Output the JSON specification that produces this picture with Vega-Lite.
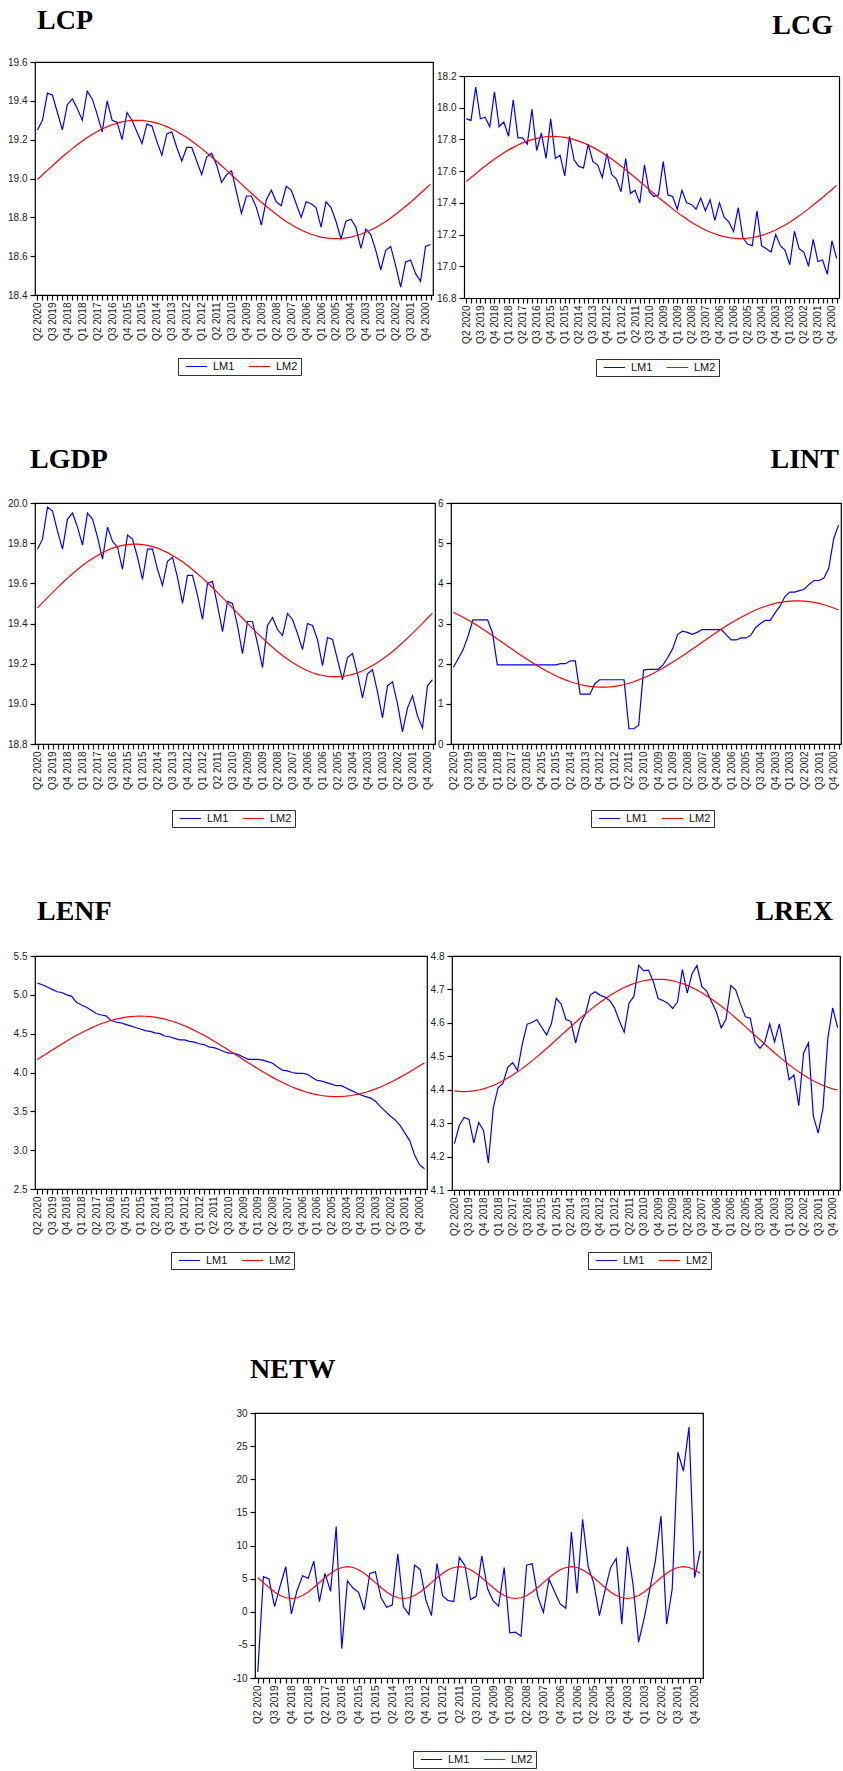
{
"$schema": "https://vega.github.io/schema/vega-lite/v6.json",
"background": "white",
"padding": {"left": 6, "top": 6, "right": 0, "bottom": 0},
"data": {"values": [
{"q":"Q2 2020","s":"LM1","lcp":19.25,"lcg":17.93,"lgdp":19.77,"lint":1.91,"lenf":5.15,"lrex":4.239,"netw":-9.1},
{"q":"Q1 2020","s":"LM1","lcp":19.30,"lcg":17.92,"lgdp":19.82,"lint":2.13,"lenf":5.13,"lrex":4.293,"netw":5.29},
{"q":"Q4 2019","s":"LM1","lcp":19.44,"lcg":18.13,"lgdp":19.98,"lint":2.35,"lenf":5.10,"lrex":4.317,"netw":4.94},
{"q":"Q3 2019","s":"LM1","lcp":19.43,"lcg":17.93,"lgdp":19.96,"lint":2.69,"lenf":5.07,"lrex":4.311,"netw":0.77},
{"q":"Q2 2019","s":"LM1","lcp":19.34,"lcg":17.94,"lgdp":19.86,"lint":3.09,"lenf":5.04,"lrex":4.241,"netw":3.93},
{"q":"Q1 2019","s":"LM1","lcp":19.25,"lcg":17.88,"lgdp":19.77,"lint":3.09,"lenf":5.03,"lrex":4.302,"netw":6.79},
{"q":"Q4 2018","s":"LM1","lcp":19.38,"lcg":18.10,"lgdp":19.92,"lint":3.09,"lenf":5.00,"lrex":4.278,"netw":-0.33},
{"q":"Q3 2018","s":"LM1","lcp":19.41,"lcg":17.88,"lgdp":19.95,"lint":3.09,"lenf":4.98,"lrex":4.181,"netw":3.18},
{"q":"Q2 2018","s":"LM1","lcp":19.36,"lcg":17.91,"lgdp":19.88,"lint":2.77,"lenf":4.90,"lrex":4.345,"netw":5.44},
{"q":"Q1 2018","s":"LM1","lcp":19.30,"lcg":17.82,"lgdp":19.79,"lint":1.97,"lenf":4.87,"lrex":4.406,"netw":5.04},
{"q":"Q4 2017","s":"LM1","lcp":19.45,"lcg":18.05,"lgdp":19.95,"lint":1.97,"lenf":4.84,"lrex":4.419,"netw":7.64},
{"q":"Q3 2017","s":"LM1","lcp":19.41,"lcg":17.81,"lgdp":19.92,"lint":1.97,"lenf":4.80,"lrex":4.467,"netw":1.53},
{"q":"Q2 2017","s":"LM1","lcp":19.33,"lcg":17.81,"lgdp":19.83,"lint":1.97,"lenf":4.76,"lrex":4.481,"netw":5.79},
{"q":"Q1 2017","s":"LM1","lcp":19.24,"lcg":17.77,"lgdp":19.72,"lint":1.97,"lenf":4.74,"lrex":4.457,"netw":3.08},
{"q":"Q4 2016","s":"LM1","lcp":19.40,"lcg":17.99,"lgdp":19.88,"lint":1.97,"lenf":4.73,"lrex":4.537,"netw":12.86},
{"q":"Q3 2016","s":"LM1","lcp":19.30,"lcg":17.73,"lgdp":19.81,"lint":1.97,"lenf":4.67,"lrex":4.596,"netw":-5.59},
{"q":"Q2 2016","s":"LM1","lcp":19.29,"lcg":17.84,"lgdp":19.78,"lint":1.97,"lenf":4.65,"lrex":4.601,"netw":4.68},
{"q":"Q1 2016","s":"LM1","lcp":19.20,"lcg":17.68,"lgdp":19.67,"lint":1.97,"lenf":4.64,"lrex":4.610,"netw":3.58},
{"q":"Q4 2015","s":"LM1","lcp":19.34,"lcg":17.93,"lgdp":19.84,"lint":1.97,"lenf":4.62,"lrex":4.586,"netw":2.93},
{"q":"Q3 2015","s":"LM1","lcp":19.30,"lcg":17.68,"lgdp":19.82,"lint":1.97,"lenf":4.60,"lrex":4.564,"netw":0.27},
{"q":"Q2 2015","s":"LM1","lcp":19.24,"lcg":17.70,"lgdp":19.73,"lint":1.97,"lenf":4.58,"lrex":4.598,"netw":5.79},
{"q":"Q1 2015","s":"LM1","lcp":19.18,"lcg":17.57,"lgdp":19.62,"lint":1.97,"lenf":4.56,"lrex":4.673,"netw":6.04},
{"q":"Q4 2014","s":"LM1","lcp":19.28,"lcg":17.82,"lgdp":19.77,"lint":2.00,"lenf":4.54,"lrex":4.656,"netw":2.13},
{"q":"Q3 2014","s":"LM1","lcp":19.27,"lcg":17.67,"lgdp":19.77,"lint":2.00,"lenf":4.53,"lrex":4.610,"netw":0.67},
{"q":"Q2 2014","s":"LM1","lcp":19.19,"lcg":17.63,"lgdp":19.67,"lint":2.07,"lenf":4.51,"lrex":4.604,"netw":1.02},
{"q":"Q1 2014","s":"LM1","lcp":19.12,"lcg":17.62,"lgdp":19.59,"lint":2.07,"lenf":4.50,"lrex":4.540,"netw":8.70},
{"q":"Q4 2013","s":"LM1","lcp":19.23,"lcg":17.77,"lgdp":19.71,"lint":1.24,"lenf":4.47,"lrex":4.598,"netw":0.77},
{"q":"Q3 2013","s":"LM1","lcp":19.24,"lcg":17.66,"lgdp":19.73,"lint":1.24,"lenf":4.46,"lrex":4.626,"netw":-0.43},
{"q":"Q2 2013","s":"LM1","lcp":19.16,"lcg":17.64,"lgdp":19.63,"lint":1.24,"lenf":4.44,"lrex":4.683,"netw":7.04},
{"q":"Q1 2013","s":"LM1","lcp":19.09,"lcg":17.56,"lgdp":19.50,"lint":1.50,"lenf":4.42,"lrex":4.693,"netw":6.39},
{"q":"Q4 2012","s":"LM1","lcp":19.16,"lcg":17.71,"lgdp":19.64,"lint":1.60,"lenf":4.42,"lrex":4.683,"netw":1.83},
{"q":"Q3 2012","s":"LM1","lcp":19.16,"lcg":17.58,"lgdp":19.64,"lint":1.60,"lenf":4.40,"lrex":4.677,"netw":-0.58},
{"q":"Q2 2012","s":"LM1","lcp":19.09,"lcg":17.55,"lgdp":19.54,"lint":1.60,"lenf":4.39,"lrex":4.667,"netw":7.29},
{"q":"Q1 2012","s":"LM1","lcp":19.02,"lcg":17.47,"lgdp":19.42,"lint":1.60,"lenf":4.37,"lrex":4.645,"netw":2.43},
{"q":"Q4 2011","s":"LM1","lcp":19.11,"lcg":17.68,"lgdp":19.60,"lint":1.60,"lenf":4.36,"lrex":4.606,"netw":1.68},
{"q":"Q3 2011","s":"LM1","lcp":19.13,"lcg":17.46,"lgdp":19.61,"lint":1.60,"lenf":4.33,"lrex":4.572,"netw":1.58},
{"q":"Q2 2011","s":"LM1","lcp":19.07,"lcg":17.48,"lgdp":19.49,"lint":0.38,"lenf":4.32,"lrex":4.659,"netw":8.19},
{"q":"Q1 2011","s":"LM1","lcp":18.98,"lcg":17.40,"lgdp":19.36,"lint":0.38,"lenf":4.30,"lrex":4.679,"netw":6.94},
{"q":"Q4 2010","s":"LM1","lcp":19.02,"lcg":17.64,"lgdp":19.51,"lint":0.47,"lenf":4.27,"lrex":4.772,"netw":1.83},
{"q":"Q3 2010","s":"LM1","lcp":19.04,"lcg":17.47,"lgdp":19.50,"lint":1.84,"lenf":4.25,"lrex":4.756,"netw":2.33},
{"q":"Q2 2010","s":"LM1","lcp":18.93,"lcg":17.44,"lgdp":19.39,"lint":1.86,"lenf":4.25,"lrex":4.758,"netw":8.44},
{"q":"Q1 2010","s":"LM1","lcp":18.82,"lcg":17.45,"lgdp":19.25,"lint":1.86,"lenf":4.23,"lrex":4.724,"netw":3.53},
{"q":"Q4 2009","s":"LM1","lcp":18.91,"lcg":17.66,"lgdp":19.41,"lint":1.86,"lenf":4.20,"lrex":4.673,"netw":1.68},
{"q":"Q3 2009","s":"LM1","lcp":18.91,"lcg":17.45,"lgdp":19.41,"lint":1.97,"lenf":4.17,"lrex":4.667,"netw":0.82},
{"q":"Q2 2009","s":"LM1","lcp":18.85,"lcg":17.44,"lgdp":19.30,"lint":2.16,"lenf":4.17,"lrex":4.659,"netw":6.69},
{"q":"Q1 2009","s":"LM1","lcp":18.76,"lcg":17.36,"lgdp":19.18,"lint":2.38,"lenf":4.17,"lrex":4.643,"netw":-3.19},
{"q":"Q4 2008","s":"LM1","lcp":18.89,"lcg":17.48,"lgdp":19.39,"lint":2.73,"lenf":4.16,"lrex":4.663,"netw":-3.09},
{"q":"Q3 2008","s":"LM1","lcp":18.94,"lcg":17.40,"lgdp":19.43,"lint":2.81,"lenf":4.14,"lrex":4.760,"netw":-3.69},
{"q":"Q2 2008","s":"LM1","lcp":18.88,"lcg":17.39,"lgdp":19.37,"lint":2.78,"lenf":4.12,"lrex":4.689,"netw":7.04},
{"q":"Q1 2008","s":"LM1","lcp":18.86,"lcg":17.36,"lgdp":19.34,"lint":2.73,"lenf":4.07,"lrex":4.747,"netw":7.24},
{"q":"Q4 2007","s":"LM1","lcp":18.96,"lcg":17.43,"lgdp":19.45,"lint":2.78,"lenf":4.03,"lrex":4.772,"netw":2.28},
{"q":"Q3 2007","s":"LM1","lcp":18.94,"lcg":17.35,"lgdp":19.42,"lint":2.85,"lenf":4.02,"lrex":4.709,"netw":-0.08},
{"q":"Q2 2007","s":"LM1","lcp":18.87,"lcg":17.42,"lgdp":19.35,"lint":2.85,"lenf":4.00,"lrex":4.695,"netw":4.94},
{"q":"Q1 2007","s":"LM1","lcp":18.80,"lcg":17.29,"lgdp":19.27,"lint":2.85,"lenf":3.99,"lrex":4.664,"netw":3.03},
{"q":"Q4 2006","s":"LM1","lcp":18.88,"lcg":17.40,"lgdp":19.40,"lint":2.85,"lenf":3.99,"lrex":4.633,"netw":1.18},
{"q":"Q3 2006","s":"LM1","lcp":18.87,"lcg":17.31,"lgdp":19.39,"lint":2.85,"lenf":3.98,"lrex":4.585,"netw":0.53},
{"q":"Q2 2006","s":"LM1","lcp":18.85,"lcg":17.28,"lgdp":19.32,"lint":2.71,"lenf":3.94,"lrex":4.611,"netw":12.05},
{"q":"Q1 2006","s":"LM1","lcp":18.75,"lcg":17.22,"lgdp":19.19,"lint":2.59,"lenf":3.90,"lrex":4.712,"netw":2.78},
{"q":"Q4 2005","s":"LM1","lcp":18.88,"lcg":17.37,"lgdp":19.33,"lint":2.59,"lenf":3.89,"lrex":4.698,"netw":13.96},
{"q":"Q3 2005","s":"LM1","lcp":18.85,"lcg":17.18,"lgdp":19.32,"lint":2.64,"lenf":3.87,"lrex":4.656,"netw":6.79},
{"q":"Q2 2005","s":"LM1","lcp":18.78,"lcg":17.14,"lgdp":19.22,"lint":2.64,"lenf":3.85,"lrex":4.618,"netw":4.28},
{"q":"Q1 2005","s":"LM1","lcp":18.69,"lcg":17.13,"lgdp":19.12,"lint":2.71,"lenf":3.83,"lrex":4.614,"netw":-0.58},
{"q":"Q4 2004","s":"LM1","lcp":18.78,"lcg":17.35,"lgdp":19.23,"lint":2.90,"lenf":3.83,"lrex":4.541,"netw":3.2},
{"q":"Q3 2004","s":"LM1","lcp":18.79,"lcg":17.13,"lgdp":19.25,"lint":3.00,"lenf":3.80,"lrex":4.524,"netw":6.69},
{"q":"Q2 2004","s":"LM1","lcp":18.75,"lcg":17.11,"lgdp":19.15,"lint":3.08,"lenf":3.77,"lrex":4.542,"netw":8.04},
{"q":"Q1 2004","s":"LM1","lcp":18.64,"lcg":17.09,"lgdp":19.03,"lint":3.08,"lenf":3.74,"lrex":4.597,"netw":-1.89},
{"q":"Q4 2003","s":"LM1","lcp":18.74,"lcg":17.20,"lgdp":19.15,"lint":3.27,"lenf":3.71,"lrex":4.543,"netw":9.85},
{"q":"Q3 2003","s":"LM1","lcp":18.71,"lcg":17.13,"lgdp":19.17,"lint":3.43,"lenf":3.69,"lrex":4.597,"netw":4.18},
{"q":"Q2 2003","s":"LM1","lcp":18.63,"lcg":17.10,"lgdp":19.06,"lint":3.67,"lenf":3.67,"lrex":4.517,"netw":-4.59},
{"q":"Q1 2003","s":"LM1","lcp":18.53,"lcg":17.01,"lgdp":18.93,"lint":3.78,"lenf":3.63,"lrex":4.430,"netw":-0.98},
{"q":"Q4 2002","s":"LM1","lcp":18.63,"lcg":17.22,"lgdp":19.09,"lint":3.78,"lenf":3.56,"lrex":4.444,"netw":3.42},
{"q":"Q3 2002","s":"LM1","lcp":18.65,"lcg":17.11,"lgdp":19.11,"lint":3.82,"lenf":3.50,"lrex":4.352,"netw":7.68},
{"q":"Q2 2002","s":"LM1","lcp":18.55,"lcg":17.09,"lgdp":19.00,"lint":3.86,"lenf":3.44,"lrex":4.510,"netw":14.45},
{"q":"Q1 2002","s":"LM1","lcp":18.44,"lcg":17.00,"lgdp":18.86,"lint":3.98,"lenf":3.39,"lrex":4.540,"netw":-1.89},
{"q":"Q4 2001","s":"LM1","lcp":18.57,"lcg":17.17,"lgdp":18.98,"lint":4.07,"lenf":3.32,"lrex":4.321,"netw":3.42},
{"q":"Q3 2001","s":"LM1","lcp":18.58,"lcg":17.03,"lgdp":19.04,"lint":4.07,"lenf":3.22,"lrex":4.270,"netw":24.07},
{"q":"Q2 2001","s":"LM1","lcp":18.51,"lcg":17.04,"lgdp":18.94,"lint":4.13,"lenf":3.12,"lrex":4.345,"netw":21.22},
{"q":"Q1 2001","s":"LM1","lcp":18.47,"lcg":16.95,"lgdp":18.88,"lint":4.38,"lenf":2.93,"lrex":4.555,"netw":27.89},
{"q":"Q4 2000","s":"LM1","lcp":18.65,"lcg":17.16,"lgdp":19.09,"lint":5.11,"lenf":2.81,"lrex":4.645,"netw":5.12},
{"q":"Q3 2000","s":"LM1","lcp":18.66,"lcg":17.05,"lgdp":19.12,"lint":5.45,"lenf":2.76,"lrex":4.586,"netw":9.18},
{"q":"Q2 2020","s":"LM2","lcp":18.995,"lcg":17.535,"lgdp":19.478,"lint":3.280,"lenf":4.167,"lrex":4.3966,"netw":5.142},
{"q":"Q1 2020","s":"LM2","lcp":19.019,"lcg":17.560,"lgdp":19.504,"lint":3.220,"lenf":4.208,"lrex":4.3950,"netw":4.4},
{"q":"Q4 2019","s":"LM2","lcp":19.043,"lcg":17.584,"lgdp":19.529,"lint":3.156,"lenf":4.249,"lrex":4.3945,"netw":3.658},
{"q":"Q3 2019","s":"LM2","lcp":19.066,"lcg":17.609,"lgdp":19.554,"lint":3.088,"lenf":4.289,"lrex":4.3950,"netw":2.989},
{"q":"Q2 2019","s":"LM2","lcp":19.089,"lcg":17.632,"lgdp":19.579,"lint":3.016,"lenf":4.329,"lrex":4.3966,"netw":2.458},
{"q":"Q1 2019","s":"LM2","lcp":19.112,"lcg":17.654,"lgdp":19.603,"lint":2.941,"lenf":4.368,"lrex":4.3991,"netw":2.117},
{"q":"Q4 2018","s":"LM2","lcp":19.133,"lcg":17.676,"lgdp":19.626,"lint":2.862,"lenf":4.406,"lrex":4.4027,"netw":2.0},
{"q":"Q3 2018","s":"LM2","lcp":19.154,"lcg":17.696,"lgdp":19.648,"lint":2.782,"lenf":4.443,"lrex":4.4073,"netw":2.117},
{"q":"Q2 2018","s":"LM2","lcp":19.174,"lcg":17.716,"lgdp":19.669,"lint":2.700,"lenf":4.479,"lrex":4.4128,"netw":2.458},
{"q":"Q1 2018","s":"LM2","lcp":19.193,"lcg":17.734,"lgdp":19.689,"lint":2.617,"lenf":4.512,"lrex":4.4193,"netw":2.989},
{"q":"Q4 2017","s":"LM2","lcp":19.211,"lcg":17.750,"lgdp":19.707,"lint":2.532,"lenf":4.544,"lrex":4.4266,"netw":3.658},
{"q":"Q3 2017","s":"LM2","lcp":19.227,"lcg":17.765,"lgdp":19.724,"lint":2.448,"lenf":4.574,"lrex":4.4348,"netw":4.4},
{"q":"Q2 2017","s":"LM2","lcp":19.242,"lcg":17.778,"lgdp":19.739,"lint":2.364,"lenf":4.602,"lrex":4.4437,"netw":5.142},
{"q":"Q1 2017","s":"LM2","lcp":19.255,"lcg":17.789,"lgdp":19.753,"lint":2.280,"lenf":4.627,"lrex":4.4534,"netw":5.811},
{"q":"Q4 2016","s":"LM2","lcp":19.267,"lcg":17.799,"lgdp":19.765,"lint":2.198,"lenf":4.650,"lrex":4.4638,"netw":6.342},
{"q":"Q3 2016","s":"LM2","lcp":19.277,"lcg":17.807,"lgdp":19.775,"lint":2.118,"lenf":4.670,"lrex":4.4747,"netw":6.683},
{"q":"Q2 2016","s":"LM2","lcp":19.285,"lcg":17.813,"lgdp":19.783,"lint":2.040,"lenf":4.687,"lrex":4.4862,"netw":6.8},
{"q":"Q1 2016","s":"LM2","lcp":19.292,"lcg":17.817,"lgdp":19.789,"lint":1.964,"lenf":4.701,"lrex":4.4982,"netw":6.683},
{"q":"Q4 2015","s":"LM2","lcp":19.296,"lcg":17.819,"lgdp":19.793,"lint":1.892,"lenf":4.712,"lrex":4.5106,"netw":6.342},
{"q":"Q3 2015","s":"LM2","lcp":19.299,"lcg":17.819,"lgdp":19.795,"lint":1.824,"lenf":4.720,"lrex":4.5233,"netw":5.811},
{"q":"Q2 2015","s":"LM2","lcp":19.300,"lcg":17.817,"lgdp":19.795,"lint":1.760,"lenf":4.724,"lrex":4.5362,"netw":5.142},
{"q":"Q1 2015","s":"LM2","lcp":19.299,"lcg":17.813,"lgdp":19.793,"lint":1.700,"lenf":4.726,"lrex":4.5493,"netw":4.4},
{"q":"Q4 2014","s":"LM2","lcp":19.296,"lcg":17.807,"lgdp":19.789,"lint":1.645,"lenf":4.724,"lrex":4.5625,"netw":3.658},
{"q":"Q3 2014","s":"LM2","lcp":19.292,"lcg":17.799,"lgdp":19.783,"lint":1.595,"lenf":4.720,"lrex":4.5757,"netw":2.989},
{"q":"Q2 2014","s":"LM2","lcp":19.285,"lcg":17.789,"lgdp":19.775,"lint":1.551,"lenf":4.712,"lrex":4.5888,"netw":2.458},
{"q":"Q1 2014","s":"LM2","lcp":19.277,"lcg":17.778,"lgdp":19.765,"lint":1.513,"lenf":4.701,"lrex":4.6017,"netw":2.117},
{"q":"Q4 2013","s":"LM2","lcp":19.267,"lcg":17.765,"lgdp":19.753,"lint":1.481,"lenf":4.687,"lrex":4.6144,"netw":2.0},
{"q":"Q3 2013","s":"LM2","lcp":19.255,"lcg":17.750,"lgdp":19.739,"lint":1.454,"lenf":4.670,"lrex":4.6268,"netw":2.117},
{"q":"Q2 2013","s":"LM2","lcp":19.242,"lcg":17.734,"lgdp":19.724,"lint":1.435,"lenf":4.650,"lrex":4.6388,"netw":2.458},
{"q":"Q1 2013","s":"LM2","lcp":19.227,"lcg":17.716,"lgdp":19.707,"lint":1.421,"lenf":4.627,"lrex":4.6503,"netw":2.989},
{"q":"Q4 2012","s":"LM2","lcp":19.211,"lcg":17.696,"lgdp":19.689,"lint":1.415,"lenf":4.602,"lrex":4.6612,"netw":3.658},
{"q":"Q3 2012","s":"LM2","lcp":19.193,"lcg":17.676,"lgdp":19.669,"lint":1.415,"lenf":4.574,"lrex":4.6716,"netw":4.4},
{"q":"Q2 2012","s":"LM2","lcp":19.174,"lcg":17.654,"lgdp":19.648,"lint":1.421,"lenf":4.544,"lrex":4.6813,"netw":5.142},
{"q":"Q1 2012","s":"LM2","lcp":19.154,"lcg":17.632,"lgdp":19.626,"lint":1.435,"lenf":4.512,"lrex":4.6902,"netw":5.811},
{"q":"Q4 2011","s":"LM2","lcp":19.133,"lcg":17.609,"lgdp":19.603,"lint":1.454,"lenf":4.479,"lrex":4.6984,"netw":6.342},
{"q":"Q3 2011","s":"LM2","lcp":19.112,"lcg":17.584,"lgdp":19.579,"lint":1.481,"lenf":4.443,"lrex":4.7057,"netw":6.683},
{"q":"Q2 2011","s":"LM2","lcp":19.089,"lcg":17.560,"lgdp":19.554,"lint":1.513,"lenf":4.406,"lrex":4.7122,"netw":6.8},
{"q":"Q1 2011","s":"LM2","lcp":19.066,"lcg":17.535,"lgdp":19.529,"lint":1.551,"lenf":4.368,"lrex":4.7177,"netw":6.683},
{"q":"Q4 2010","s":"LM2","lcp":19.043,"lcg":17.510,"lgdp":19.504,"lint":1.595,"lenf":4.329,"lrex":4.7223,"netw":6.342},
{"q":"Q3 2010","s":"LM2","lcp":19.019,"lcg":17.484,"lgdp":19.478,"lint":1.645,"lenf":4.289,"lrex":4.7259,"netw":5.811},
{"q":"Q2 2010","s":"LM2","lcp":18.995,"lcg":17.459,"lgdp":19.452,"lint":1.700,"lenf":4.249,"lrex":4.7284,"netw":5.142},
{"q":"Q1 2010","s":"LM2","lcp":18.971,"lcg":17.434,"lgdp":19.426,"lint":1.760,"lenf":4.208,"lrex":4.7300,"netw":4.4},
{"q":"Q4 2009","s":"LM2","lcp":18.947,"lcg":17.410,"lgdp":19.401,"lint":1.824,"lenf":4.167,"lrex":4.7305,"netw":3.658},
{"q":"Q3 2009","s":"LM2","lcp":18.924,"lcg":17.386,"lgdp":19.376,"lint":1.892,"lenf":4.127,"lrex":4.7300,"netw":2.989},
{"q":"Q2 2009","s":"LM2","lcp":18.901,"lcg":17.362,"lgdp":19.351,"lint":1.964,"lenf":4.087,"lrex":4.7284,"netw":2.458},
{"q":"Q1 2009","s":"LM2","lcp":18.878,"lcg":17.340,"lgdp":19.327,"lint":2.040,"lenf":4.048,"lrex":4.7259,"netw":2.117},
{"q":"Q4 2008","s":"LM2","lcp":18.857,"lcg":17.318,"lgdp":19.304,"lint":2.118,"lenf":4.010,"lrex":4.7223,"netw":2.0},
{"q":"Q3 2008","s":"LM2","lcp":18.836,"lcg":17.298,"lgdp":19.282,"lint":2.198,"lenf":3.973,"lrex":4.7177,"netw":2.117},
{"q":"Q2 2008","s":"LM2","lcp":18.816,"lcg":17.278,"lgdp":19.261,"lint":2.280,"lenf":3.937,"lrex":4.7122,"netw":2.458},
{"q":"Q1 2008","s":"LM2","lcp":18.797,"lcg":17.261,"lgdp":19.241,"lint":2.364,"lenf":3.904,"lrex":4.7057,"netw":2.989},
{"q":"Q4 2007","s":"LM2","lcp":18.779,"lcg":17.244,"lgdp":19.223,"lint":2.448,"lenf":3.872,"lrex":4.6984,"netw":3.658},
{"q":"Q3 2007","s":"LM2","lcp":18.763,"lcg":17.229,"lgdp":19.206,"lint":2.532,"lenf":3.842,"lrex":4.6902,"netw":4.4},
{"q":"Q2 2007","s":"LM2","lcp":18.748,"lcg":17.216,"lgdp":19.191,"lint":2.617,"lenf":3.814,"lrex":4.6813,"netw":5.142},
{"q":"Q1 2007","s":"LM2","lcp":18.735,"lcg":17.205,"lgdp":19.177,"lint":2.700,"lenf":3.789,"lrex":4.6716,"netw":5.811},
{"q":"Q4 2006","s":"LM2","lcp":18.723,"lcg":17.195,"lgdp":19.165,"lint":2.782,"lenf":3.766,"lrex":4.6612,"netw":6.342},
{"q":"Q3 2006","s":"LM2","lcp":18.713,"lcg":17.187,"lgdp":19.155,"lint":2.862,"lenf":3.746,"lrex":4.6503,"netw":6.683},
{"q":"Q2 2006","s":"LM2","lcp":18.705,"lcg":17.181,"lgdp":19.147,"lint":2.941,"lenf":3.729,"lrex":4.6388,"netw":6.8},
{"q":"Q1 2006","s":"LM2","lcp":18.698,"lcg":17.177,"lgdp":19.141,"lint":3.016,"lenf":3.715,"lrex":4.6268,"netw":6.683},
{"q":"Q4 2005","s":"LM2","lcp":18.694,"lcg":17.175,"lgdp":19.137,"lint":3.088,"lenf":3.704,"lrex":4.6144,"netw":6.342},
{"q":"Q3 2005","s":"LM2","lcp":18.691,"lcg":17.175,"lgdp":19.135,"lint":3.156,"lenf":3.696,"lrex":4.6017,"netw":5.811},
{"q":"Q2 2005","s":"LM2","lcp":18.690,"lcg":17.177,"lgdp":19.135,"lint":3.220,"lenf":3.692,"lrex":4.5888,"netw":5.142},
{"q":"Q1 2005","s":"LM2","lcp":18.691,"lcg":17.181,"lgdp":19.137,"lint":3.280,"lenf":3.690,"lrex":4.5757,"netw":4.4},
{"q":"Q4 2004","s":"LM2","lcp":18.694,"lcg":17.187,"lgdp":19.141,"lint":3.335,"lenf":3.692,"lrex":4.5625,"netw":3.658},
{"q":"Q3 2004","s":"LM2","lcp":18.698,"lcg":17.195,"lgdp":19.147,"lint":3.385,"lenf":3.696,"lrex":4.5493,"netw":2.989},
{"q":"Q2 2004","s":"LM2","lcp":18.705,"lcg":17.205,"lgdp":19.155,"lint":3.429,"lenf":3.704,"lrex":4.5362,"netw":2.458},
{"q":"Q1 2004","s":"LM2","lcp":18.713,"lcg":17.216,"lgdp":19.165,"lint":3.467,"lenf":3.715,"lrex":4.5233,"netw":2.117},
{"q":"Q4 2003","s":"LM2","lcp":18.723,"lcg":17.229,"lgdp":19.177,"lint":3.500,"lenf":3.729,"lrex":4.5106,"netw":2.0},
{"q":"Q3 2003","s":"LM2","lcp":18.735,"lcg":17.244,"lgdp":19.191,"lint":3.526,"lenf":3.746,"lrex":4.4982,"netw":2.117},
{"q":"Q2 2003","s":"LM2","lcp":18.748,"lcg":17.261,"lgdp":19.206,"lint":3.545,"lenf":3.766,"lrex":4.4862,"netw":2.458},
{"q":"Q1 2003","s":"LM2","lcp":18.763,"lcg":17.278,"lgdp":19.223,"lint":3.559,"lenf":3.789,"lrex":4.4747,"netw":2.989},
{"q":"Q4 2002","s":"LM2","lcp":18.779,"lcg":17.298,"lgdp":19.241,"lint":3.565,"lenf":3.814,"lrex":4.4638,"netw":3.658},
{"q":"Q3 2002","s":"LM2","lcp":18.797,"lcg":17.318,"lgdp":19.261,"lint":3.565,"lenf":3.842,"lrex":4.4534,"netw":4.4},
{"q":"Q2 2002","s":"LM2","lcp":18.816,"lcg":17.340,"lgdp":19.282,"lint":3.559,"lenf":3.872,"lrex":4.4437,"netw":5.142},
{"q":"Q1 2002","s":"LM2","lcp":18.836,"lcg":17.362,"lgdp":19.304,"lint":3.545,"lenf":3.904,"lrex":4.4348,"netw":5.811},
{"q":"Q4 2001","s":"LM2","lcp":18.857,"lcg":17.386,"lgdp":19.327,"lint":3.526,"lenf":3.937,"lrex":4.4266,"netw":6.342},
{"q":"Q3 2001","s":"LM2","lcp":18.878,"lcg":17.410,"lgdp":19.351,"lint":3.500,"lenf":3.973,"lrex":4.4193,"netw":6.683},
{"q":"Q2 2001","s":"LM2","lcp":18.901,"lcg":17.434,"lgdp":19.376,"lint":3.467,"lenf":4.010,"lrex":4.4128,"netw":6.8},
{"q":"Q1 2001","s":"LM2","lcp":18.924,"lcg":17.459,"lgdp":19.401,"lint":3.429,"lenf":4.048,"lrex":4.4073,"netw":6.683},
{"q":"Q4 2000","s":"LM2","lcp":18.947,"lcg":17.484,"lgdp":19.426,"lint":3.385,"lenf":4.087,"lrex":4.4027,"netw":6.342},
{"q":"Q3 2000","s":"LM2","lcp":18.971,"lcg":17.510,"lgdp":19.452,"lint":3.335,"lenf":4.127,"lrex":4.3991,"netw":5.811}
]},
"config": {
  "font": "Liberation Sans",
  "view": {"stroke": "#000", "strokeWidth": 1.2},
  "axis": {"labelFont": "Liberation Sans", "labelFontSize": 10, "labelColor": "#222", "tickColor": "#000", "tickWidth": 1.2, "tickSize": 5, "domain": false, "grid": false, "domainColor": "#000", "domainWidth": 1.2},
  "axisX": {"labelAngle": 270, "labelPadding": 2, "labelOverlap": false},
  "axisY": {"labelPadding": 3},
  "title": {"font": "Liberation Serif", "fontSize": 28, "fontWeight": "bold", "color": "#000", "frame": "group", "baseline": "alphabetic"},
  "legend": {"symbolType": "stroke", "symbolSize": 441, "symbolStrokeWidth": 1.2, "labelFont": "Liberation Sans", "labelFontSize": 11, "labelColor": "#111", "strokeColor": "#333", "fillColor": "white", "padding": 3, "clipHeight": 11, "symbolOffset": 4, "labelOffset": 5, "columnPadding": 9},
  "line": {"strokeWidth": 1.2}
},
"resolve": {"scale": {"color": "independent", "x": "independent", "y": "independent"}, "legend": {"color": "independent"}},
"spacing": 84,
"vconcat": [
 {
  "resolve": {"scale": {"color": "independent", "x": "independent", "y": "independent"}, "legend": {"color": "independent"}},
  "spacing": 68,
  "vconcat": [
   {
    "resolve": {"scale": {"color": "independent", "x": "independent", "y": "independent"}, "legend": {"color": "independent"}},
    "bounds": "flush",
    "spacing": 31,
    "hconcat": [
     {
      "width": 398, "height": 233,
      "title": {"text": "LCP", "anchor": "start", "dx": 2, "offset": 22},
      "mark": "line",
      "encoding": {
        "x": {"field": "q", "type": "ordinal", "sort": null, "scale": {"type": "point", "padding": 0.5}, "axis": {"title": null, "labelExpr": "(8081 - (toNumber(substring(datum.label,3,7))*4 + toNumber(substring(datum.label,1,2)) - 1)) % 3 == 0 ? datum.label : ''"}},
        "y": {"field": "lcp", "type": "quantitative", "scale": {"domain": [18.4, 19.6], "nice": false, "zero": false}, "axis": {"title": null, "values": [18.4, 18.6, 18.8, 19.0, 19.2, 19.4, 19.6], "format": ".1f"}},
        "color": {"field": "s", "type": "nominal", "scale": {"domain": ["LM1", "LM2"], "range": ["#0000ff", "#ff0000"]}, "legend": {"title": null, "orient": "none", "legendX": 143, "legendY": 296, "direction": "horizontal"}}
      }
     },
     {
      "width": 375, "height": 236,
      "view": {"stroke": null},
      "title": {"text": "LCG", "anchor": "end", "dx": -6, "offset": 22},
      "layer": [
       {
        "mark": "line",
        "encoding": {
          "x": {"field": "q", "type": "ordinal", "sort": null, "scale": {"type": "point", "padding": 0.5}, "axis": {"title": null, "domain": true, "labelExpr": "(8081 - (toNumber(substring(datum.label,3,7))*4 + toNumber(substring(datum.label,1,2)) - 1)) % 3 == 0 ? datum.label : ''"}},
          "y": {"field": "lcg", "type": "quantitative", "scale": {"domain": [16.8, 18.2], "nice": false, "zero": false, "range": [236, 14]}, "axis": {"title": null, "domain": true, "values": [16.8, 17.0, 17.2, 17.4, 17.6, 17.8, 18.0, 18.2], "format": ".1f"}},
          "color": {"field": "s", "type": "nominal", "scale": {"domain": ["LM1", "LM2"], "range": ["#0000ff", "#ff0000"]}, "legend": {"title": null, "orient": "none", "legendX": 132, "legendY": 297, "direction": "horizontal"}}
        }
       },
       {
        "mark": {"type": "point", "opacity": 0},
        "encoding": {
          "x": {"field": "q", "type": "ordinal", "sort": null, "axis": {"orient": "top", "offset": -14, "labels": false, "ticks": false, "domain": true, "title": null}},
          "y": {"field": "lcg", "type": "quantitative", "axis": {"orient": "right", "labels": false, "ticks": false, "domain": true, "title": null}}
        }
       }
      ],
      "resolve": {"axis": {"x": "independent", "y": "independent"}}
     }
    ]
   },
   {
    "resolve": {"scale": {"color": "independent", "x": "independent", "y": "independent"}, "legend": {"color": "independent"}},
    "bounds": "flush",
    "spacing": 16,
    "hconcat": [
     {
      "width": 400, "height": 241,
      "title": {"text": "LGDP", "anchor": "start", "dx": -5, "offset": 24},
      "mark": "line",
      "encoding": {
        "x": {"field": "q", "type": "ordinal", "sort": null, "scale": {"type": "point", "padding": 0.5}, "axis": {"title": null, "labelExpr": "(8081 - (toNumber(substring(datum.label,3,7))*4 + toNumber(substring(datum.label,1,2)) - 1)) % 3 == 0 ? datum.label : ''"}},
        "y": {"field": "lgdp", "type": "quantitative", "scale": {"domain": [18.8, 20.0], "nice": false, "zero": false}, "axis": {"title": null, "values": [18.8, 19.0, 19.2, 19.4, 19.6, 19.8, 20.0], "format": ".1f"}},
        "color": {"field": "s", "type": "nominal", "scale": {"domain": ["LM1", "LM2"], "range": ["#0000ff", "#ff0000"]}, "legend": {"title": null, "orient": "none", "legendX": 137, "legendY": 307, "direction": "horizontal"}}
      }
     },
     {
      "width": 390, "height": 241,
      "title": {"text": "LINT", "anchor": "end", "dx": -2, "offset": 24},
      "mark": "line",
      "encoding": {
        "x": {"field": "q", "type": "ordinal", "sort": null, "scale": {"type": "point", "padding": 0.5}, "axis": {"title": null, "labelExpr": "(8081 - (toNumber(substring(datum.label,3,7))*4 + toNumber(substring(datum.label,1,2)) - 1)) % 3 == 0 ? datum.label : ''"}},
        "y": {"field": "lint", "type": "quantitative", "scale": {"domain": [0, 6], "nice": false, "zero": false}, "axis": {"title": null, "values": [0, 1, 2, 3, 4, 5, 6], "format": "d"}},
        "color": {"field": "s", "type": "nominal", "scale": {"domain": ["LM1", "LM2"], "range": ["#0000ff", "#ff0000"]}, "legend": {"title": null, "orient": "none", "legendX": 140, "legendY": 307, "direction": "horizontal"}}
      }
     }
    ]
   },
   {
    "resolve": {"scale": {"color": "independent", "x": "independent", "y": "independent"}, "legend": {"color": "independent"}},
    "bounds": "flush",
    "spacing": 25,
    "hconcat": [
     {
      "width": 392, "height": 233,
      "title": {"text": "LENF", "anchor": "start", "dx": 2, "offset": 25},
      "mark": "line",
      "encoding": {
        "x": {"field": "q", "type": "ordinal", "sort": null, "scale": {"type": "point", "padding": 0.5}, "axis": {"title": null, "labelExpr": "(8081 - (toNumber(substring(datum.label,3,7))*4 + toNumber(substring(datum.label,1,2)) - 1)) % 3 == 0 ? datum.label : ''"}},
        "y": {"field": "lenf", "type": "quantitative", "scale": {"domain": [2.5, 5.5], "nice": false, "zero": false}, "axis": {"title": null, "values": [2.5, 3.0, 3.5, 4.0, 4.5, 5.0, 5.5], "format": ".1f"}},
        "color": {"field": "s", "type": "nominal", "scale": {"domain": ["LM1", "LM2"], "range": ["#0000ff", "#ff0000"]}, "legend": {"title": null, "orient": "none", "legendX": 136, "legendY": 296, "direction": "horizontal"}}
      }
     },
     {
      "width": 388, "height": 234,
      "title": {"text": "LREX", "anchor": "end", "dx": -7, "offset": 25},
      "mark": "line",
      "encoding": {
        "x": {"field": "q", "type": "ordinal", "sort": null, "scale": {"type": "point", "padding": 0.5}, "axis": {"title": null, "labelExpr": "(8081 - (toNumber(substring(datum.label,3,7))*4 + toNumber(substring(datum.label,1,2)) - 1)) % 3 == 0 ? datum.label : ''"}},
        "y": {"field": "lrex", "type": "quantitative", "scale": {"domain": [4.1, 4.8], "nice": false, "zero": false}, "axis": {"title": null, "values": [4.1, 4.2, 4.3, 4.4, 4.5, 4.6, 4.7, 4.8], "format": ".1f"}},
        "color": {"field": "s", "type": "nominal", "scale": {"domain": ["LM1", "LM2"], "range": ["#0000ff", "#ff0000"]}, "legend": {"title": null, "orient": "none", "legendX": 136, "legendY": 296, "direction": "horizontal"}}
      }
     }
    ]
   }
  ]
 },
 {
  "resolve": {"scale": {"color": "independent", "x": "independent", "y": "independent"}, "legend": {"color": "independent"}},
  "bounds": "flush",
  "spacing": 23,
  "hconcat": [
   {
    "width": 197, "height": 10,
    "data": {"values": []},
    "mark": {"type": "point", "opacity": 0},
    "view": {"stroke": null}
   },
   {
    "width": 448, "height": 265,
    "title": {"text": "NETW", "anchor": "start", "dx": -5, "offset": 24},
    "mark": "line",
    "encoding": {
      "x": {"field": "q", "type": "ordinal", "sort": null, "scale": {"type": "point", "padding": 0.5}, "axis": {"title": null, "labelExpr": "(8081 - (toNumber(substring(datum.label,3,7))*4 + toNumber(substring(datum.label,1,2)) - 1)) % 3 == 0 ? datum.label : ''"}},
      "y": {"field": "netw", "type": "quantitative", "scale": {"domain": [-10, 30], "nice": false, "zero": false}, "axis": {"title": null, "values": [-10, -5, 0, 5, 10, 15, 20, 25, 30], "labelExpr": "'' + datum.value"}},
      "color": {"field": "s", "type": "nominal", "scale": {"domain": ["LM1", "LM2"], "range": ["#0000ff", "#ff0000"]}, "legend": {"title": null, "orient": "none", "legendX": 158, "legendY": 338, "direction": "horizontal"}}
    }
   }
  ]
 }
]
}
